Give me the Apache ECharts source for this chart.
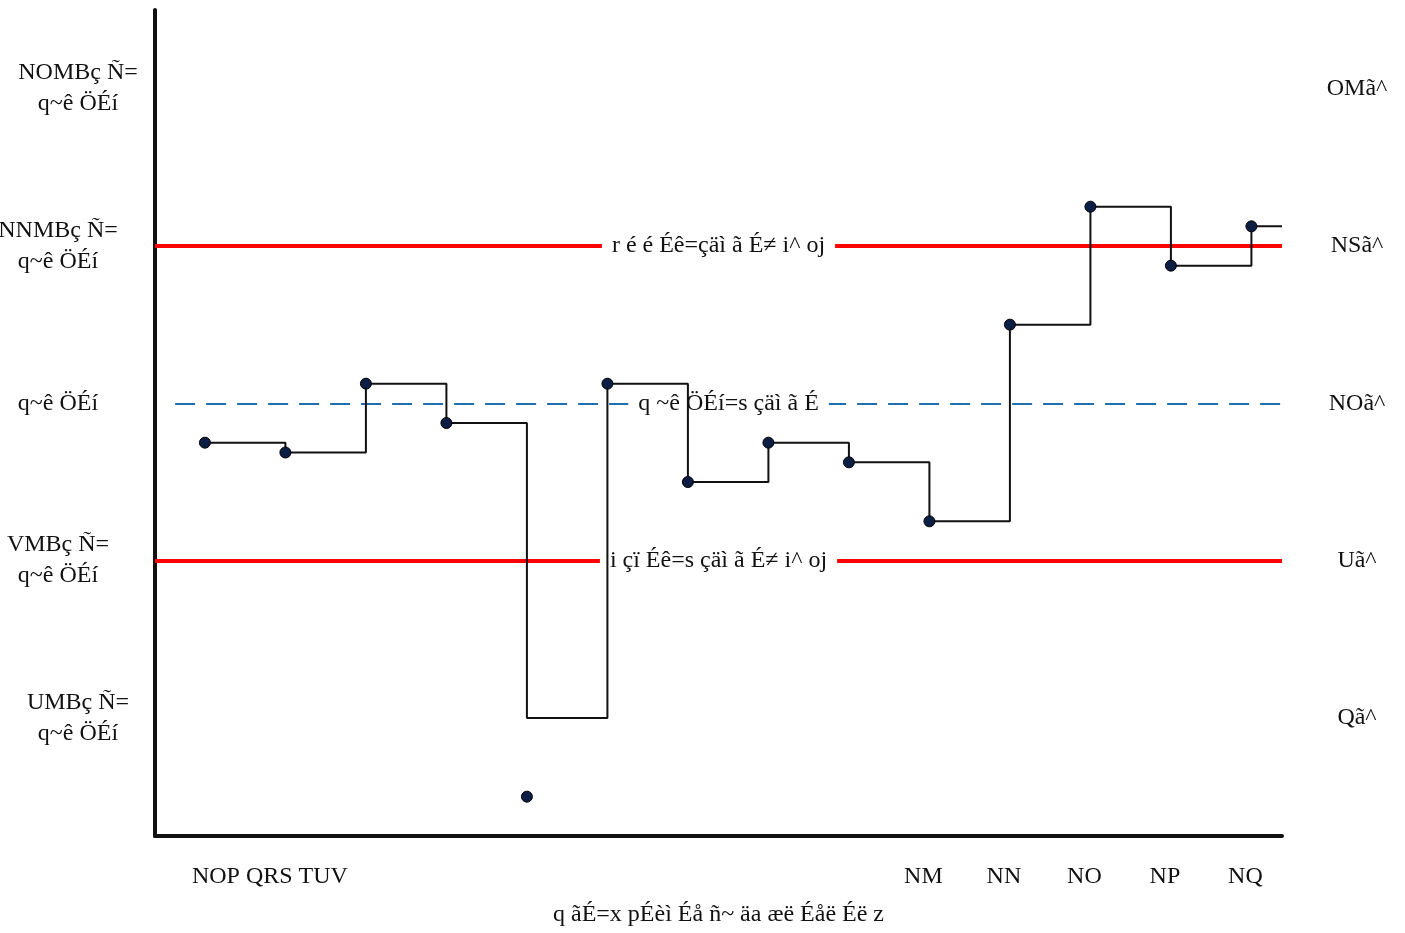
<!DOCTYPE html>
<html>
<head>
<meta charset="utf-8">
<script src="https://cdn.jsdelivr.net/npm/echarts@6/dist/echarts.min.js"></script>
<style>html,body{margin:0;padding:0;background:#fff}#c{width:1405px;height:933px}</style>
</head>
<body>
<div id="c"></div>
<script>
// Sample index (x) and signal values (mA)
const samples = [1, 2, 3, 4, 5, 6, 7, 8, 9, 10, 11, 12, 13, 14];
const lineValues = [11.0, 10.75, 12.5, 11.5, 4.0, 12.5, 10.0, 11.0, 10.5, 9.0, 14.0, 17.0, 15.5, 16.5];
const dotValues  = [11.0, 10.75, 12.5, 11.5, 2.0, 12.5, 10.0, 11.0, 10.5, 9.0, 14.0, 17.0, 15.5, 16.5];
const lineEndX = 14.38;

// Reference levels (mA)
const upperLimit = 16;
const targetLevel = 12;
const lowerLimit = 8;
const upperLabel = 'r é é Éê=çäì ã É≠ i^ oj';
const targetLabel = 'q ~ê ÖÉí=s çäì ã É';
const lowerLabel = 'i çï Éê=s çäì ã É≠ i^ oj';

// Tick labels
const yTickValues = [4, 8, 12, 16, 20];
const leftTickLabels = {
  20: ['NOMBç Ñ=', 'q~ê ÖÉí', true],
  16: ['NNMBç Ñ=', 'q~ê ÖÉí', false],
  12: ['q~ê ÖÉí', null, false],
  8:  ['VMBç Ñ=', 'q~ê ÖÉí', false],
  4:  ['UMBç Ñ=', 'q~ê ÖÉí', true]
};
const rightTickLabels = {20: 'OMã^', 16: 'NSã^', 12: 'NOã^', 8: 'Uã^', 4: 'Qã^'};
const xTickValues = [1, 10, 11, 12, 13, 14];
const xTickLabels = {1: 'NOP QRS TUV', 10: 'NM', 11: 'NN', 12: 'NO', 13: 'NP', 14: 'NQ'};
const xAxisName = 'q ãÉ=x pÉèì Éå ñ~ äa æë Éåë Éë z';

const FONT = 'Liberation Serif';
const lineData = samples.map((x, i) => [x, lineValues[i]]);
lineData.push([lineEndX, lineValues[lineValues.length - 1]]);
const dotData = samples.map((x, i) => [x, dotValues[i]]);

const chart = echarts.init(document.getElementById('c'));
const lblStyle = {fontFamily: FONT, fontSize: 24, color: '#111', backgroundColor: '#fff',
  padding: [2, 10], distance: 0, verticalAlign: 'middle', align: 'center'};
chart.setOption({
  animation: false,
  grid: {left: 155, right: 123, top: 10, bottom: 97, containLabel: false, outerBoundsMode: 'none'},
  xAxis: {
    type: 'value', min: 0.38, max: 14.38,
    splitLine: {show: false},
    axisTick: {show: false},
    axisLine: {show: true, onZero: false, lineStyle: {color: '#111', width: 4}},
    axisLabel: {
      customValues: xTickValues, margin: 29,
      fontFamily: FONT, fontSize: 24, color: '#111',
      formatter: v => v === 1 ? '{s|' + xTickLabels[v] + '}' : '{n|' + xTickLabels[v] + '}',
      rich: {
        s: {fontFamily: FONT, fontSize: 24, color: '#111', padding: [0, 0, 0, 130]},
        n: {fontFamily: FONT, fontSize: 24, color: '#111', padding: [0, 12, 0, 0]}
      }
    },
    name: xAxisName, nameLocation: 'middle', nameGap: 67,
    nameTextStyle: {fontFamily: FONT, fontSize: 24, color: '#111'}
  },
  yAxis: [{
    type: 'value', min: 1, max: 22, position: 'left',
    splitLine: {show: false},
    axisTick: {show: false},
    axisLine: {show: true, lineStyle: {color: '#111', width: 4}},
    axisLabel: {
      customValues: yTickValues, margin: 97, align: 'center',
      fontFamily: FONT, fontSize: 24, color: '#111', lineHeight: 31,
      formatter: v => {
        const t = leftTickLabels[v];
        const s = t[2] ? 'b' : 'a';
        return t[1] ? '{' + s + '|' + t[0] + '}\n{' + s + '|' + t[1] + '}' : '{' + s + '|' + t[0] + '}';
      },
      rich: {
        a: {fontFamily: FONT, fontSize: 24, color: '#111', lineHeight: 31},
        b: {fontFamily: FONT, fontSize: 24, color: '#111', lineHeight: 31, padding: [0, 0, 0, 40]}
      }
    }
  }, {
    type: 'value', min: 1, max: 22, position: 'right',
    splitLine: {show: false},
    axisTick: {show: false},
    axisLine: {show: false},
    axisLabel: {
      customValues: yTickValues, margin: 75, align: 'center',
      fontFamily: FONT, fontSize: 24, color: '#111',
      formatter: v => rightTickLabels[v]
    }
  }],
  series: [{
    type: 'line', data: [], silent: true, z: 1,
    markLine: {
      symbol: 'none', silent: true, animation: false, z: 1,
      data: [
        [{coord: [0.38, upperLimit], lineStyle: {color: '#ff0000', width: 4, type: 'solid'},
          label: Object.assign({show: true, position: 'middle', formatter: upperLabel}, lblStyle)},
         {coord: [14.38, upperLimit]}],
        [{coord: [0.63, targetLevel], lineStyle: {color: '#1f6fb0', width: 2, type: [20, 11]},
          label: Object.assign({show: true, position: 'middle', formatter: targetLabel}, lblStyle)},
         {coord: [14.38, targetLevel]}],
        [{coord: [0.38, lowerLimit], lineStyle: {color: '#ff0000', width: 4, type: 'solid'},
          label: Object.assign({show: true, position: 'middle', formatter: lowerLabel}, lblStyle)},
         {coord: [14.38, lowerLimit]}]
      ]
    }
  }, {
    type: 'line', data: lineData, step: 'end', showSymbol: false, symbol: 'none',
    lineStyle: {color: '#111', width: 2}, z: 3
  }, {
    type: 'scatter', data: dotData, symbol: 'circle', symbolSize: 11,
    itemStyle: {color: '#0d1e45', borderColor: '#000', borderWidth: 1, opacity: 1}, z: 4
  }]
});
</script>
</body>
</html>
